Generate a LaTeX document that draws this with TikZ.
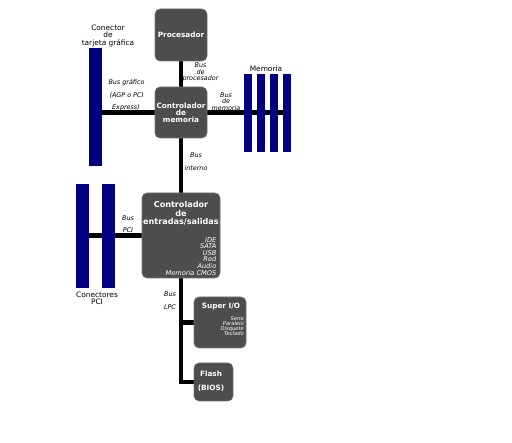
\documentclass[tikz,border=0pt]{standalone}
\usepackage{fontspec}
\setmainfont{DejaVu Sans}
\usetikzlibrary{positioning}
\pgfdeclarelayer{background}
\pgfsetlayers{background,main}
\definecolor{boxgray}{HTML}{4D4D4D}
\definecolor{barblue}{HTML}{000080}
\tikzset{
  chip/.style={draw=black!55, fill=boxgray, rounded corners=5pt, inner sep=0pt, line width=0.6pt},
  bar/.style={fill=barblue, draw=none, inner sep=0pt},
  bus/.style={line width=4.2pt, draw=black},
  title/.style={text=white, font=\bfseries\fontsize{7.3}{7}\selectfont, align=center, inner sep=0pt},
  bigtitle/.style={text=white, font=\bfseries\fontsize{8.1}{8.5}\selectfont, align=center, inner sep=0pt},
  item/.style={text=white, font=\itshape\fontsize{6.6}{6.6}\selectfont, align=right, inner sep=0pt},
  sitem/.style={text=white, font=\itshape\fontsize{5.2}{5.1}\selectfont, align=right, inner sep=0pt},
  lab/.style={font=\fontsize{7.4}{7.3}\selectfont, align=center, inner sep=0pt},
  buslab/.style={font=\itshape\fontsize{6.4}{6.5}\selectfont, align=center, inner sep=0pt},
}
\begin{document}
\begin{tikzpicture}[x=1pt,y=-1pt]
\useasboundingbox (0,0) rectangle (512,443);
% chips
\node[chip, minimum width=52pt, minimum height=52pt] (cpu) at (181,35) {};
\node[chip, minimum width=52pt, minimum height=51pt] (mem) at (181,112.5) {};
\node[chip, minimum width=78pt, minimum height=85pt] (io) at (181,235.5) {};
\node[chip, minimum width=52pt, minimum height=51pt] (sio) at (220,322.5) {};
\node[chip, minimum width=39pt, minimum height=38pt] (flash) at (213.5,382) {};
% bars
\node[bar, minimum width=13pt, minimum height=118pt] (gbar) at (95.5,107) {};
\node[bar, minimum width=8pt, minimum height=78pt] (m1) at (248,113) {};
\node[bar, minimum width=8pt, minimum height=78pt] (m2) at (261,113) {};
\node[bar, minimum width=8pt, minimum height=78pt] (m3) at (274,113) {};
\node[bar, minimum width=8pt, minimum height=78pt] (m4) at (287,113) {};
\node[bar, minimum width=13pt, minimum height=104pt] (p1) at (82.5,236) {};
\node[bar, minimum width=13pt, minimum height=104pt] (p2) at (108.5,236) {};
% buses
\begin{pgfonlayer}{background}
\draw[bus] (cpu.south) -- (mem.north);
\draw[bus] (gbar.center |- mem.west) -- (mem.west);
\draw[bus] (mem.east) -- (m4.center |- mem.east);
\draw[bus] (mem.south) -- (io.north);
\draw[bus] (p1.center |- io.west) -- (io.west);
\draw[bus] (io.south) |- (flash.west);
\draw[bus] (io.south |- sio.west) -- (sio.west);
\end{pgfonlayer}
% chip texts
\node[title] (cputxt) at (cpu.center) {Procesador};
\node[title] (memtxt) at (181,112.5) {Controlador\\de\\memoria};
\node[bigtitle] (iotxt) at (181,213.5) {Controlador\\de\\entradas/salidas};
\node[item, anchor=north east] (iolist) at (216.5,237) {IDE\\SATA\\USB\\Red\\Audio\\Memoria CMOS};
\node[title] (siotxt) at (221,307) {Super I/O};
\node[sitem, anchor=north east] (siolist) at (244,316.5) {Serie\\Paralelo\\Disquete\\Teclado};
\node[title] (flashtxt1) at (211,374) {Flash};
\node[title] (flashtxt2) at (211,388) {(BIOS)};
% labels
\node[lab] (lgraf) at (108,36) {Conector\\de\\tarjeta gráfica};
\node[lab] (lmem) at (266,68.5) {Memoria};
\node[lab] (lpci) at (97,298.5) {Conectores\\PCI};
\node[buslab] (bgraf1) at (126.5,83) {Bus gráfico};
\node[buslab] (bgraf2) at (126.5,95) {(AGP o PCI};
\node[buslab] (bgraf3) at (126,108) {Express)};
\node[buslab] (bproc) at (200.5,72.5) {Bus\\de\\procesador};
\node[buslab] (bmem) at (226,101.5) {Bus\\de\\memoria};
\node[buslab] (bint1) at (196,155) {Bus};
\node[buslab] (bint2) at (196,168) {interno};
\node[buslab] (bpci1) at (128,218) {Bus};
\node[buslab] (bpci2) at (128,230.5) {PCI};
\node[buslab] (blpc1) at (170,294) {Bus};
\node[buslab] (blpc2) at (170,307) {LPC};
\end{tikzpicture}
\end{document}
